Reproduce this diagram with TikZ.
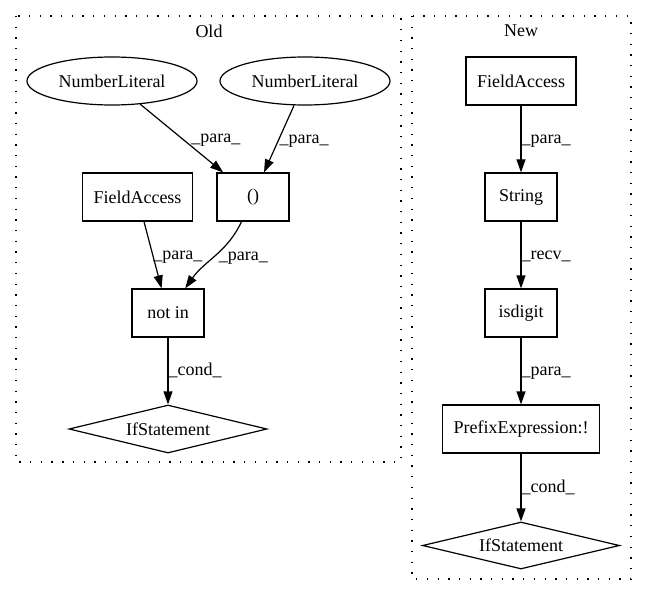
\documentclass[tikz,border=0pt]{standalone}
\usepackage{fontspec}
\setmainfont{Liberation Serif}
\usetikzlibrary{arrows.meta}
\usetikzlibrary{shapes.geometric}
\tikzset{>={Triangle[length=13pt,width=9pt]}}

\begin{document}
\begin{tikzpicture}[x=1pt, y=1pt,
  every node/.style={font=\fontsize{18}{21}\selectfont},
  box/.style={draw, line width=1.2pt, rectangle, minimum width=72pt, minimum height=48pt, inner xsep=11pt},
  lit/.style={draw, line width=1.2pt, ellipse, minimum width=170pt, minimum height=48pt, inner sep=0pt},
  cond/.style={draw, line width=1.2pt, diamond, minimum width=198pt, minimum height=48pt, inner sep=0pt, aspect=4},
  flow/.style={->, line width=1.2pt},
  elab/.style={anchor=base west, inner sep=0pt, midway, yshift=-4.5pt},
  cluster/.style={line width=1.3pt, dash pattern=on 1.3pt off 9.4pt}]

\useasboundingbox (0,0) rectangle (647,-596);

\draw[cluster] (16,-16) rectangle (401,-462);
\draw[cluster] (412,-16) rectangle (631,-579);
\node (oldTitle) at (209,-31) {Old};
\node (newTitle) at (521,-31) {New};

\node[lit] (numLitA) at (112,-81) {NumberLiteral};
\node[lit] (numLitB) at (305,-81) {NumberLiteral};
\node[box] (fieldOld) at (137.5,-197) {FieldAccess};
\node[box] (paren) at (253,-197) {()};
\node[box] (notIn) at (168,-313) {not in};
\node[cond] (ifOld) at (168,-429) {IfStatement};

\draw[flow] (numLitA) -- node[elab, xshift=9pt] {\_para\_} (paren);
\draw[flow] (numLitB) -- node[elab] {\_para\_} (paren);
\draw[flow] (fieldOld) -- node[elab] {\_para\_} (notIn);
\draw[flow] (paren) to[out=-115, in=55] node[elab, xshift=3pt] {\_para\_} (notIn);
\draw[flow] (notIn) -- node[elab] {\_cond\_} (ifOld);

\node[box] (fieldNew) at (521,-81) {FieldAccess};
\node[box] (strNode) at (521,-197) {String};
\node[box] (isDigit) at (521,-313) {isdigit};
\node[box] (prefixNot) at (521,-429) {PrefixExpression:!};
\node[cond, minimum width=197pt, minimum height=47pt] (ifNew) at (521,-545.5) {IfStatement};

\draw[flow] (fieldNew) -- node[elab] {\_para\_} (strNode);
\draw[flow] (strNode) -- node[elab] {\_recv\_} (isDigit);
\draw[flow] (isDigit) -- node[elab] {\_para\_} (prefixNot);
\draw[flow] (prefixNot) -- node[elab] {\_cond\_} (ifNew);

\end{tikzpicture}
\end{document}
